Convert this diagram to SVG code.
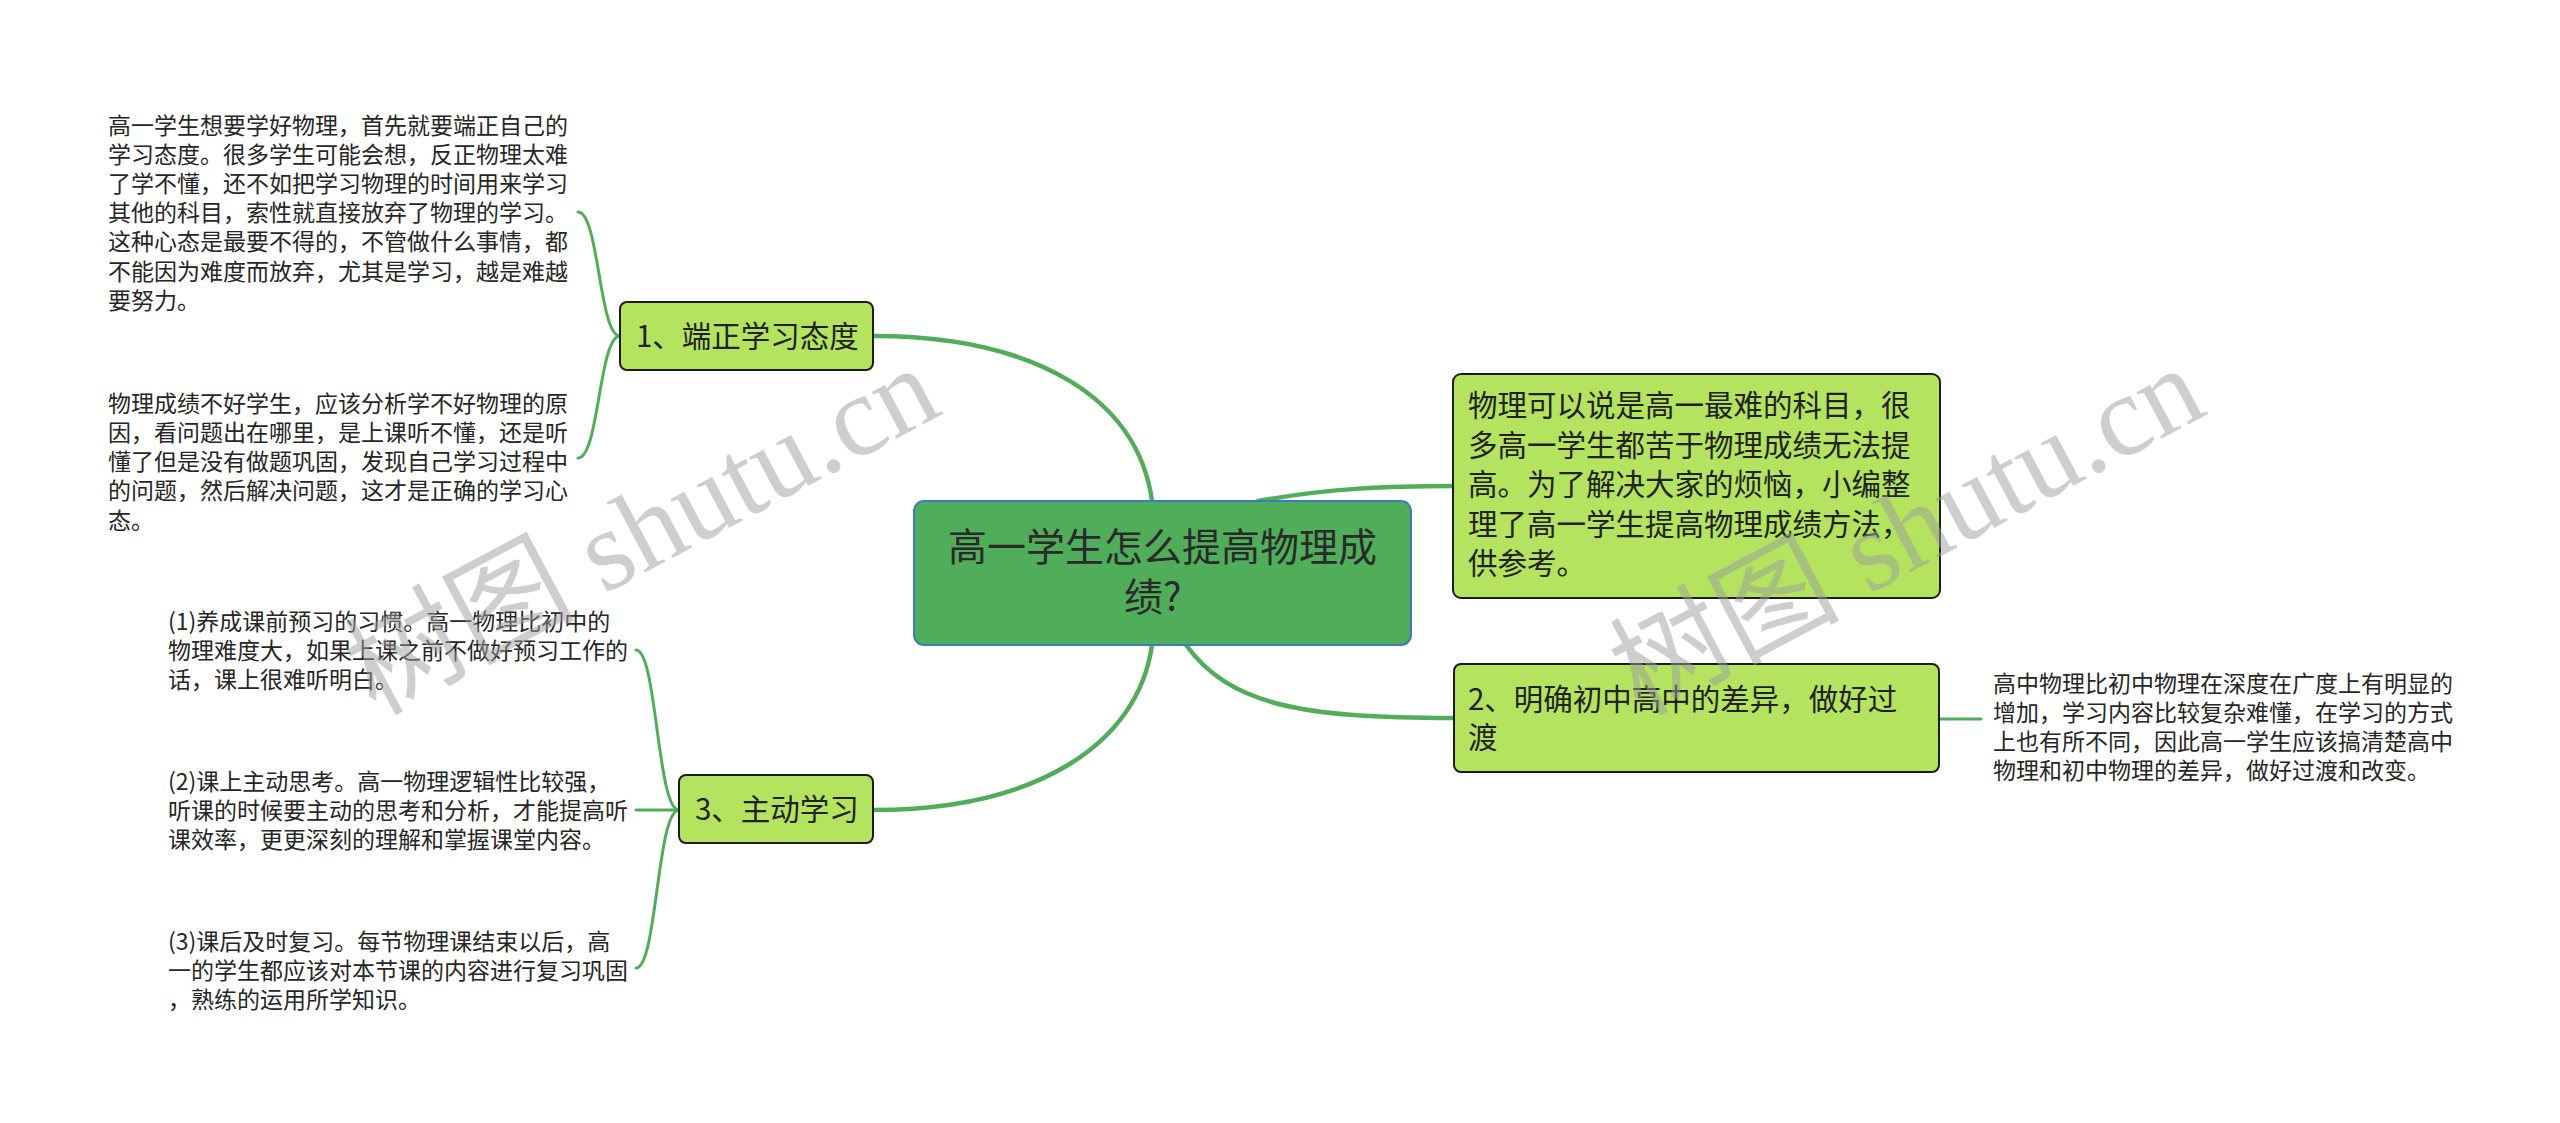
<svg xmlns="http://www.w3.org/2000/svg" width="2560" height="1123" viewBox="0 0 2560 1123">
<style>
.bg{fill:#ffffff}
.main{fill:none;stroke:#52ad5b;stroke-width:4.5;stroke-linecap:round}
.sub{fill:none;stroke:#52ad5b;stroke-width:3;stroke-linecap:round}
.root{fill:#50ae5a;stroke:#3a7cc0;stroke-width:2}
.topic{fill:#b4e35f;stroke:#1c1c1c;stroke-width:2}
text{font-family:"Noto Sans CJK SC","Noto Sans",sans-serif;fill:#222222}
.rt{font-size:39px;fill:#2a2a2a}
.tt{font-size:29.5px}
.lf{font-size:23px;fill:#262626}
.wm{font-family:"Liberation Serif","Noto Sans CJK SC",serif;font-size:115px;fill:#9e9e9e;opacity:0.5}
</style>
<rect class="bg" x="0" y="0" width="2560" height="1123"/>
<g id="connectors">
<path class="main" d="M873,336 C1035,336 1138,398 1152,501"/>
<path class="main" d="M1258,501 C1330,488 1390,486 1453,486"/>
<path class="main" d="M1186,645 C1230,705 1300,718 1454,718"/>
<path class="main" d="M873,810 C1035,810 1138,745 1152,645"/>
<path class="sub" d="M620,336 C599,336 599,212 578,212"/>
<path class="sub" d="M620,336 C599,336 599,458 578,458"/>
<path class="sub" d="M679,810 C657,810 657,650 636,650"/>
<path class="sub" d="M679,810 L636,810"/>
<path class="sub" d="M679,810 C657,810 657,968 636,968"/>
<path class="sub" d="M1939,719 L1981,719"/>
</g>
<g id="root">
<rect class="root" x="914" y="501" width="497" height="144" rx="10"/>
<text class="rt" x="948" y="561">高一学生怎么提高物理成</text>
<text class="rt" x="1124" y="611">绩?</text>
</g>
<g id="intro">
<rect class="topic" x="1453" y="374" width="487" height="224" rx="8"/>
<text class="tt" x="1468" y="416">物理可以说是高一最难的科目，很</text>
<text class="tt" x="1468" y="455.5">多高一学生都苦于物理成绩无法提</text>
<text class="tt" x="1468" y="495">高。为了解决大家的烦恼，小编整</text>
<text class="tt" x="1468" y="534.5">理了高一学生提高物理成绩方法，</text>
<text class="tt" x="1468" y="574">供参考。</text>
</g>
<g id="topic1">
<rect class="topic" x="620" y="302" width="253" height="68" rx="7"/>
<text class="tt" x="636" y="347">1、端正学习态度</text>
</g>
<g id="topic2">
<rect class="topic" x="1454" y="664" width="485" height="108" rx="7"/>
<text class="tt" x="1468" y="710">2、明确初中高中的差异，做好过</text>
<text class="tt" x="1468" y="748">渡</text>
</g>
<g id="topic3">
<rect class="topic" x="679" y="775" width="194" height="68" rx="7"/>
<text class="tt" x="695" y="820">3、主动学习</text>
</g>
<g id="leaf1a">
<text class="lf" x="108" y="133.5">高一学生想要学好物理，首先就要端正自己的</text>
<text class="lf" x="108" y="162.7">学习态度。很多学生可能会想，反正物理太难</text>
<text class="lf" x="108" y="191.9">了学不懂，还不如把学习物理的时间用来学习</text>
<text class="lf" x="108" y="221.1">其他的科目，索性就直接放弃了物理的学习。</text>
<text class="lf" x="108" y="250.3">这种心态是最要不得的，不管做什么事情，都</text>
<text class="lf" x="108" y="279.5">不能因为难度而放弃，尤其是学习，越是难越</text>
<text class="lf" x="108" y="308.7">要努力。</text>
</g>
<g id="leaf1b">
<text class="lf" x="108" y="411.8">物理成绩不好学生，应该分析学不好物理的原</text>
<text class="lf" x="108" y="441">因，看问题出在哪里，是上课听不懂，还是听</text>
<text class="lf" x="108" y="470.2">懂了但是没有做题巩固，发现自己学习过程中</text>
<text class="lf" x="108" y="499.4">的问题，然后解决问题，这才是正确的学习心</text>
<text class="lf" x="108" y="528.6">态。</text>
</g>
<g id="leaf2">
<text class="lf" x="1993" y="691.7">高中物理比初中物理在深度在广度上有明显的</text>
<text class="lf" x="1993" y="720.9">增加，学习内容比较复杂难懂，在学习的方式</text>
<text class="lf" x="1993" y="750.1">上也有所不同，因此高一学生应该搞清楚高中</text>
<text class="lf" x="1993" y="779.3">物理和初中物理的差异，做好过渡和改变。</text>
</g>
<g id="leaf3a">
<text class="lf" x="168" y="630">(1)养成课前预习的习惯。高一物理比初中的</text>
<text class="lf" x="168" y="659.2">物理难度大，如果上课之前不做好预习工作的</text>
<text class="lf" x="168" y="688.4">话，课上很难听明白。</text>
</g>
<g id="leaf3b">
<text class="lf" x="168" y="790">(2)课上主动思考。高一物理逻辑性比较强，</text>
<text class="lf" x="168" y="819.2">听课的时候要主动的思考和分析，才能提高听</text>
<text class="lf" x="168" y="848.4">课效率，更更深刻的理解和掌握课堂内容。</text>
</g>
<g id="leaf3c">
<text class="lf" x="168" y="950">(3)课后及时复习。每节物理课结束以后，高</text>
<text class="lf" x="168" y="979.2">一的学生都应该对本节课的内容进行复习巩固</text>
<text class="lf" x="168" y="1008.4">，熟练的运用所学知识。</text>
</g>
<g id="watermarks">
<text class="wm" transform="translate(375,716) rotate(-28)">树图 shutu.cn</text>
<text class="wm" transform="translate(1640,716) rotate(-28)">树图 shutu.cn</text>
</g>
</svg>
